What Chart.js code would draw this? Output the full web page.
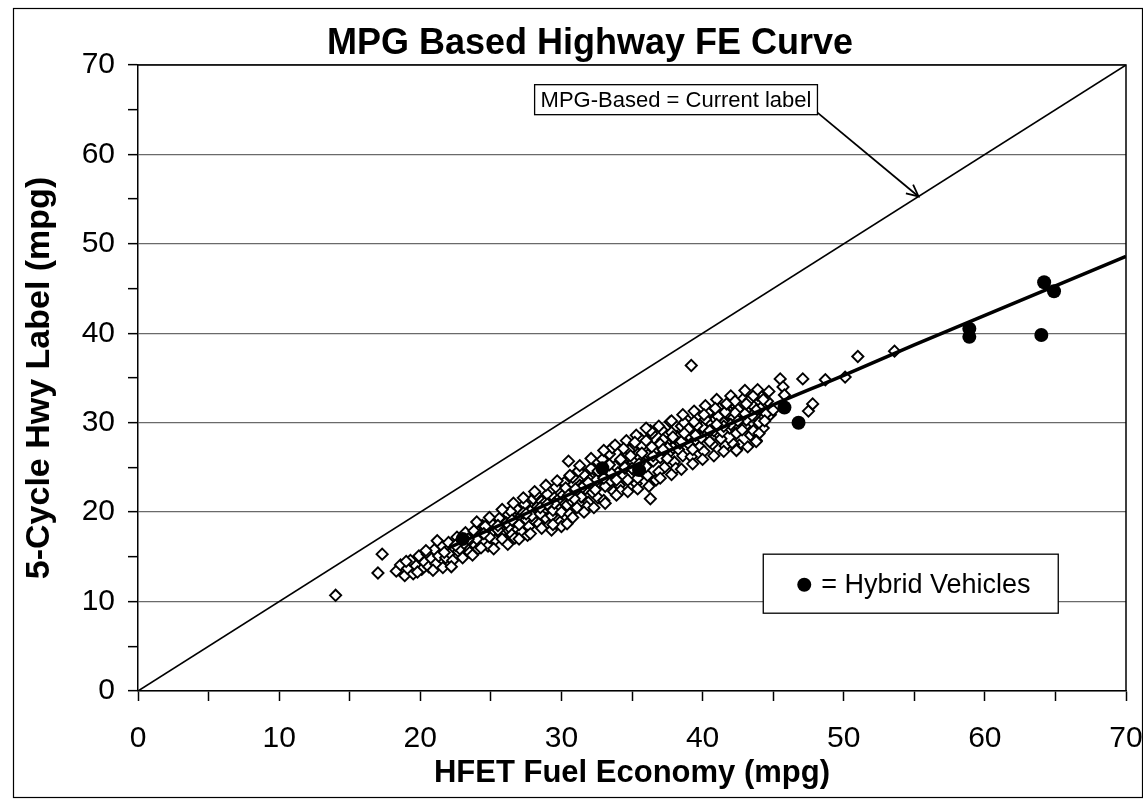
<!DOCTYPE html>
<html>
<head>
<meta charset="utf-8">
<script src="https://cdn.jsdelivr.net/npm/chart.js@4.4.1/dist/chart.umd.min.js"></script>
<style>
  html, body { margin: 0; padding: 0; background: #fff; }
  #wrap { position: relative; width: 1143px; height: 799px; }
</style>
</head>
<body>
<div id="wrap"><canvas id="c" width="1143" height="799"></canvas></div>
<script>
// ---------- DATA ----------
const chartTitle = 'MPG Based Highway FE Curve';
const xAxisTitle = 'HFET Fuel Economy (mpg)';
const yAxisTitle = '5-Cycle Hwy Label (mpg)';
const axisMin = 0;
const axisMax = 70;
const majorStep = 10;
const minorStep = 5;

// Conventional vehicles [HFET, 5-cycle hwy]
const conventional = [
  [14.0,10.7],[17.3,15.3],[17.0,13.2],
  [18.3,13.4],[18.6,14.1],[18.9,12.9],[19.1,13.7],[19.3,14.6],[19.5,13.1],[19.7,14.0],[19.9,15.1],
  [20.1,13.6],[20.3,14.4],[20.5,15.3],[20.6,13.9],[20.8,14.8],[21.0,15.8],[21.1,14.2],[21.3,15.1],
  [21.5,16.3],[21.6,13.8],[21.8,14.9],[22.0,16.6],[22.1,15.4],[22.3,14.6],[22.4,16.0],[22.6,17.2],
  [22.7,15.6],[22.9,16.4],[23.0,14.9],[23.2,17.7],[23.3,16.1],[23.5,15.5],[23.6,16.8],[23.8,17.9],
  [23.9,16.3],[24.1,15.9],[24.2,17.4],[24.4,18.5],[24.5,16.7],[24.7,17.9],[24.8,16.2],[25.0,18.8],
  [25.1,17.5],[25.3,16.9],[25.4,18.2],[25.6,19.3],[25.7,17.6],[25.9,18.6],[26.0,16.9],[26.2,19.8],
  [26.3,18.3],[26.5,17.5],[26.6,19.0],[26.8,20.4],[26.9,18.1],[27.1,19.5],[27.2,17.8],[27.4,20.9],
  [27.5,19.2],[27.7,18.4],[27.8,20.1],[28.0,21.5],[28.1,19.0],[28.3,20.6],[28.4,18.7],[28.6,21.2],
  [28.7,20.0],[28.9,19.3],[29.0,22.0],[29.2,20.8],[29.3,19.6],[29.5,21.6],[29.6,22.8],[29.8,20.4],
  [29.9,18.9],[30.1,21.9],[30.2,23.3],[30.4,20.8],[30.5,22.4],[30.7,21.3],[30.8,23.9],[31.0,22.1],
  [31.1,20.5],[31.3,23.0],[31.4,21.7],[31.6,24.2],[31.7,22.6],[31.9,21.1],[32.0,23.6],[32.2,22.2],
  [32.3,24.8],[32.5,23.1],[32.6,21.6],[32.8,24.3],[32.9,25.9],[33.1,22.9],[33.2,24.0],[33.4,26.5],
  [33.5,23.5],[33.7,22.3],[33.8,25.1],[34.0,24.4],[34.1,23.0],[34.3,25.7],[34.4,24.1],[34.6,26.6],
  [34.7,23.6],[34.9,25.2],[35.0,27.1],[35.2,24.6],[35.3,23.2],[35.5,26.0],[35.6,28.2],[35.8,25.4],
  [35.9,27.0],[36.1,24.1],[36.2,26.5],[36.4,28.8],[36.5,25.7],[36.7,23.6],[36.8,27.4],[37.0,26.1],
  [37.1,29.2],[37.3,25.0],[37.4,27.8],[37.6,26.6],[37.7,30.1],[37.9,27.2],[38.0,25.6],[38.2,28.5],
  [38.3,27.0],[38.5,29.6],[38.6,26.3],[38.8,28.0],[38.9,30.3],[39.1,27.5],[39.2,26.2],[39.4,29.0],
  [39.5,28.1],[39.7,30.8],[39.8,27.3],[40.0,29.5],[40.1,26.8],[40.3,28.7],[40.4,31.1],[40.6,29.9],
  [40.7,27.6],[40.9,30.4],[41.0,28.9],[41.2,31.6],[41.3,28.2],[41.5,30.0],[41.6,27.4],[41.8,31.0],
  [41.9,29.4],[42.1,32.2],[42.2,30.6],[42.4,28.8],[42.5,31.5],[42.7,30.1],[42.9,32.7],[43.0,29.6],
  [43.2,31.2],[43.4,28.6],[43.5,32.0],[43.7,30.8],[43.9,33.1],[44.1,31.6],[44.3,29.4],[44.6,32.4],
  [44.8,30.9],
  [19.0,14.5],[19.8,13.3],[20.4,15.7],[20.9,13.5],[21.2,16.8],[21.7,15.5],[22.2,13.9],[22.8,15.9],
  [23.1,16.5],[23.7,15.2],[24.0,17.0],[24.3,16.0],[24.6,18.4],[24.9,17.2],[25.2,15.9],[25.5,18.0],
  [25.8,17.0],[26.1,18.8],[26.4,20.1],[26.7,17.1],[27.0,18.6],[27.3,19.9],[27.6,17.4],[27.9,19.6],
  [28.2,22.0],[28.5,19.8],[28.8,21.0],[29.1,18.5],[29.4,20.2],[29.7,21.3],[30.0,20.0],[30.3,22.7],
  [30.6,19.8],[30.9,21.5],[31.2,24.6],[31.5,22.9],[31.8,20.6],[32.1,24.9],[32.4,22.5],[32.7,23.8],
  [33.0,21.3],[33.3,24.6],[33.6,27.2],[33.9,23.6],[34.2,22.4],[34.5,24.9],[34.8,26.9],[35.1,25.6],
  [35.4,23.8],[35.7,27.4],[36.0,25.1],[36.3,29.1],[36.6,26.9],[36.9,24.5],[37.2,28.1],[37.5,26.0],
  [37.8,28.9],[38.1,24.9],[38.4,27.7],[38.7,30.0],[39.0,28.6],[39.3,27.0],[39.6,29.7],[39.9,28.3],
  [40.2,30.4],[40.5,27.9],[40.8,29.1],[41.1,30.7],[41.4,29.0],[41.7,32.0],[42.0,29.8],[42.3,31.1],
  [42.6,27.5],[42.8,29.2],[43.1,30.3],[43.3,32.5],[43.6,29.1],[43.8,31.4],[44.0,30.0],[44.2,32.9],
  [44.5,31.0],[44.7,33.5],[45.0,31.4],
  [22.5,16.3],[23.4,17.0],[24.5,17.6],[25.5,18.5],[26.5,19.1],[27.5,19.8],[28.5,20.5],[29.5,21.0],
  [30.5,21.9],[31.5,22.8],[32.5,23.6],[33.5,24.4],[34.5,25.0],[35.5,25.4],[36.5,26.3],[37.5,27.2],
  [38.5,27.9],[39.5,28.6],[40.5,29.1],[41.5,29.6],[42.5,30.2],[43.5,30.8],[29.0,20.9],[31.0,22.6],
  [33.0,23.8],[35.0,24.9],[37.0,27.6],[39.0,29.3],[41.0,29.8],[43.0,31.0],
  [24.0,18.9],[24.9,19.4],[25.8,20.3],[26.6,21.0],[27.3,21.6],[28.1,22.3],[28.9,23.0],[29.7,23.5],
  [30.6,24.1],[31.3,25.2],[32.1,26.0],[33.0,26.9],[33.8,27.5],[34.6,28.0],[35.3,28.6],[36.0,29.4],
  [36.9,29.6],[37.8,30.2],[38.6,30.9],[39.4,31.3],[40.2,31.9],[41.0,32.6],[42.0,33.0],[43.0,33.6],
  [26.2,16.4],[27.0,17.0],[27.8,17.6],[28.6,18.2],[29.3,18.0],[30.0,18.4],[30.8,19.4],[31.6,20.0],
  [32.3,20.5],[33.1,21.0],[33.9,21.9],[34.7,22.3],[35.4,22.6],[36.2,22.9],[37.0,23.8],[37.8,24.2],
  [38.5,24.8],[39.3,25.4],[40.0,25.9],[40.8,26.3],[41.5,26.8],[42.2,27.6],[43.2,27.3],[44.0,28.8],
  [31.9,23.3],[32.6,24.6],[33.4,25.3],[34.2,25.9],[34.9,26.3],[35.7,26.6],[36.4,27.3],[37.2,27.0],
  [37.9,28.4],[38.7,28.8],[39.4,30.1],[40.1,30.9],[40.9,31.6],[41.6,31.2],[42.3,32.4],[43.1,32.1],
  [43.6,33.0],[36.0,28.0],[35.2,27.8],[34.4,27.1],
  [30.5,25.7],[29.4,18.6],[30.4,18.7],[36.3,21.5],[42.4,27.0],[43.8,28.0],[39.2,36.4],
  [45.5,34.9],[45.7,34.0],[45.8,33.1],[47.1,34.9],[48.7,34.8],[50.1,35.1],[51.0,37.4],[53.6,38.0],
  [47.5,31.3],[47.8,32.1],[43.9,33.7],[44.4,30.2],[43.8,27.9],[42.4,26.9],[41.7,32.1],[44.3,32.6]
];

// Hybrid vehicles [HFET, 5-cycle hwy]
const hybrid = [
  [23.0,17.0],[32.9,24.9],[35.5,24.7],[45.8,31.7],[46.8,30.0],
  [58.9,40.5],[58.9,39.6],[64.0,39.8],[64.2,45.7],[64.9,44.7]
];

// Fitted 5-cycle highway curve
const fitX = [22, 25, 30, 35, 40, 45, 50, 55, 60, 65, 70];
const fitY = [16.0, 18.1, 21.6, 25.1, 28.5, 32.0, 35.3, 38.7, 42.0, 45.3, 48.6];

// MPG-based (current label) 1:1 line
const currentX = [0, 70];
const currentY = [0, 70];

const noteCurrent = 'MPG-Based = Current label';
const noteHybrid = '= Hybrid Vehicles';

// ---------- CHART ----------
const FONT = '"Liberation Sans", Arial, Helvetica, sans-serif';
Chart.defaults.font.family = FONT;
Chart.defaults.color = '#000';

const decorPlugin = {
  id: 'decor',
  beforeDraw(chart) {
    const c = chart.ctx;
    c.save();
    c.fillStyle = '#fff';
    c.fillRect(0, 0, chart.width, chart.height);
    c.restore();
  },
  afterDraw(chart) {
    const c = chart.ctx;
    const xs = chart.scales.x, ys = chart.scales.y;
    const a = chart.chartArea;
    c.save();
    // plot frame (top & right)
    c.strokeStyle = '#000';
    c.lineWidth = 1.5;
    c.beginPath();
    c.moveTo(a.left, a.top); c.lineTo(a.right, a.top); c.lineTo(a.right, a.bottom);
    c.stroke();
    // outer frame
    c.lineWidth = 1.2;
    c.strokeRect(13.5, 8.5, 1129, 789);
    // title
    c.fillStyle = '#000';
    c.font = 'bold 36px ' + FONT;
    c.textAlign = 'center';
    c.textBaseline = 'alphabetic';
    c.fillText(chartTitle, 590, 54);

    // note 1: current label box + arrow
    c.font = '22px ' + FONT;
    c.textAlign = 'left';
    c.textBaseline = 'middle';
    const w1 = c.measureText(noteCurrent).width + 12;
    const bx = xs.getPixelForValue(28.1), by = ys.getPixelForValue(67.8);
    const bh = 30;
    c.fillStyle = '#fff';
    c.fillRect(bx, by, w1, bh);
    c.strokeStyle = '#000';
    c.lineWidth = 1.3;
    c.strokeRect(bx, by, w1, bh);
    c.fillStyle = '#000';
    c.fillText(noteCurrent, bx + 6, by + bh / 2 + 1);
    // arrow to the 1:1 line
    const ax0 = bx + w1, ay0 = by + bh - 2;
    const ax1 = xs.getPixelForValue(55.3), ay1 = ys.getPixelForValue(55.3);
    c.lineWidth = 1.8;
    c.beginPath(); c.moveTo(ax0, ay0); c.lineTo(ax1, ay1); c.stroke();
    const ang = Math.atan2(ay1 - ay0, ax1 - ax0);
    const hl = 13;
    c.beginPath();
    c.moveTo(ax1 - hl * Math.cos(ang - 0.45), ay1 - hl * Math.sin(ang - 0.45));
    c.lineTo(ax1, ay1);
    c.lineTo(ax1 - hl * Math.cos(ang + 0.45), ay1 - hl * Math.sin(ang + 0.45));
    c.stroke();

    // note 2: hybrid legend box
    const hx0 = xs.getPixelForValue(44.3), hx1 = xs.getPixelForValue(65.2);
    const hy0 = ys.getPixelForValue(15.3), hy1 = ys.getPixelForValue(8.7);
    c.fillStyle = '#fff';
    c.fillRect(hx0, hy0, hx1 - hx0, hy1 - hy0);
    c.lineWidth = 1.3;
    c.strokeRect(hx0, hy0, hx1 - hx0, hy1 - hy0);
    const my = (hy0 + hy1) / 2 + 1;
    c.fillStyle = '#000';
    c.beginPath(); c.arc(hx0 + 41, my, 7, 0, Math.PI * 2); c.fill();
    c.font = '27px ' + FONT;
    c.fillText(noteHybrid, hx0 + 58, my + 1);
    c.restore();
  }
};

const isMajor = (ctx) => ctx.tick && Math.abs(ctx.tick.value % majorStep) < 1e-9;

new Chart(document.getElementById('c'), {
  type: 'scatter',
  data: {
    datasets: [
      {
        label: 'Hybrid Vehicles',
        data: hybrid.map(p => ({ x: p[0], y: p[1] })),
        pointStyle: 'circle',
        pointRadius: 7,
        backgroundColor: '#000',
        borderColor: '#000',
        borderWidth: 0,
        order: 0
      },
      {
        label: '5-Cycle fit',
        type: 'line',
        data: fitX.map((x, i) => ({ x: x, y: fitY[i] })),
        borderColor: '#000',
        borderWidth: 3.5,
        pointRadius: 0,
        tension: 0.4,
        fill: false,
        order: 1
      },
      {
        label: 'Conventional',
        data: conventional.map(p => ({ x: p[0], y: p[1] })),
        pointStyle: 'rectRot',
        pointRadius: 5.6,
        backgroundColor: '#fff',
        borderColor: '#000',
        borderWidth: 1.9,
        order: 2
      },
      {
        label: 'MPG-Based = Current label',
        type: 'line',
        data: currentX.map((x, i) => ({ x: x, y: currentY[i] })),
        borderColor: '#000',
        borderWidth: 1.6,
        pointRadius: 0,
        fill: false,
        order: 3
      }
    ]
  },
  options: {
    responsive: false,
    animation: false,
    devicePixelRatio: 1,
    layout: { padding: { top: 65, right: 17, left: 0, bottom: 0 } },
    plugins: {
      legend: { display: false },
      tooltip: { enabled: false },
      title: { display: false }
    },
    scales: {
      x: {
        type: 'linear',
        min: axisMin, max: axisMax,
        afterFit(s) { s.height = 108; s.paddingLeft = 0; s.paddingRight = 0; },
        border: { display: true, color: '#000', width: 1.5 },
        grid: { drawOnChartArea: false, drawTicks: true, tickLength: 10, tickColor: '#000', tickWidth: 1.5 },
        ticks: {
          stepSize: minorStep, autoSkip: false, maxRotation: 0, padding: 20,
          font: { size: 30 }, color: '#000',
          callback: (v) => (v % majorStep === 0 ? String(v) : '')
        },
        title: { display: true, text: xAxisTitle, font: { size: 31, weight: 'bold' }, color: '#000', padding: 7 }
      },
      y: {
        type: 'linear',
        min: axisMin, max: axisMax,
        afterFit(s) { s.width = 138; s.paddingTop = 0; s.paddingBottom = 0; },
        border: { display: true, color: '#000', width: 1.5 },
        grid: {
          drawTicks: true, tickLength: 10, tickColor: '#000', tickWidth: 1.5,
          color: (ctx) => (isMajor(ctx) ? '#6a6a6a' : 'rgba(0,0,0,0)'),
          lineWidth: 1.3
        },
        ticks: {
          stepSize: minorStep, autoSkip: false, padding: 13,
          font: { size: 30 }, color: '#000',
          callback: (v) => (v % majorStep === 0 ? String(v) : '')
        },
        title: { display: true, text: yAxisTitle, font: { size: 34, weight: 'bold' }, color: '#000', padding: 19 }
      }
    }
  },
  plugins: [decorPlugin]
});
</script>
</body>
</html>
